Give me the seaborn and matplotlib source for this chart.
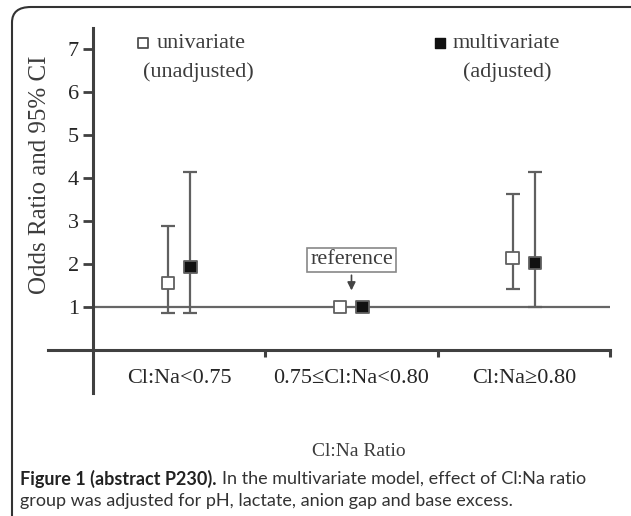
import numpy as np
import pandas as pd
import seaborn as sns
import matplotlib.pyplot as plt
from matplotlib.patches import FancyBboxPatch

# data
groups = ['Cl:Na<0.75', '0.75≤Cl:Na<0.80', 'Cl:Na≥0.80']
uni_or = [1.56, 1.0, 2.14]
uni_lo = [0.86, 1.0, 1.42]
uni_hi = [2.88, 1.0, 3.63]
multi_or = [1.93, 1.0, 2.02]
multi_lo = [0.86, 1.0, 1.00]
multi_hi = [4.14, 1.0, 4.14]
y_ticks = [1, 2, 3, 4, 5, 6, 7]

sns.set_theme(style='white')
plt.rcParams['font.family'] = ['Liberation Serif', 'DejaVu Serif']
plt.rcParams['text.color'] = '#3c3c3c'

W, H = 631, 516
fig = plt.figure(figsize=(W / 100, H / 100), dpi=100)
ax = fig.add_axes([40 / W, (H - 400) / H, 580 / W, 380 / H])

df = pd.DataFrame({
    'x': np.concatenate([np.arange(3) - 0.065, np.arange(3) + 0.065]),
    'or': uni_or + multi_or,
    'lo': uni_lo + multi_lo,
    'hi': uni_hi + multi_hi,
    'model': ['univariate'] * 3 + ['multivariate'] * 3,
})

ax.hlines(1, -0.5, 2.5, color='#666666', lw=1.6, zorder=1)

for _, r in df.iterrows():
    if r['hi'] > r['lo']:
        ax.errorbar(r['x'], r['or'], yerr=[[r['or'] - r['lo']], [r['hi'] - r['or']]],
                    fmt='none', ecolor='#606060', elinewidth=1.6, capsize=5, capthick=1.6, zorder=2)

sns.scatterplot(data=df, x='x', y='or', hue='model', style='model',
                palette={'univariate': 'white', 'multivariate': '#111111'},
                markers={'univariate': 's', 'multivariate': 's'},
                s=80, edgecolor='#606060', linewidth=1.3, legend=False, zorder=3, ax=ax)

ax.set_xlim(-0.5 - 53 / 172.5, 2.5 + 10 / 172.5)
ax.set_ylim(-50 / 43, 330 / 43)

for s in ['top', 'right']:
    ax.spines[s].set_visible(False)
ax.spines['left'].set_position(('data', -0.5))
ax.spines['left'].set_bounds(-1.0, 7.5)
ax.spines['bottom'].set_position(('data', 0))
ax.spines['bottom'].set_bounds(-0.76, 2.5)
for s in ['left', 'bottom']:
    ax.spines[s].set_color('#404040')
    ax.spines[s].set_linewidth(2.2)

ax.set_yticks(y_ticks)
ax.set_yticklabels([str(t) for t in y_ticks], fontsize=16)
ax.tick_params(axis='y', direction='out', length=7, width=2, color='#404040', left=True, pad=3)
ax.set_xticks([0.5, 1.5, 2.5])
ax.set_xticklabels([])
ax.tick_params(axis='x', which='major', direction='in', length=0)
ax.set_xticks([0, 1, 2], minor=True)
ax.set_xticklabels(groups, minor=True, fontsize=16)
ax.tick_params(axis='x', which='minor', length=0, pad=14)
for xt in [0.5, 1.5, 2.5]:
    ax.plot([xt, xt], [0, -0.16], color='#404040', lw=2.2, solid_capstyle='butt', zorder=1)
ax.set_xlabel('')
ax.set_ylabel('')

fig.text(40 / W, 1 - 175 / H, 'Odds Ratio and 95% CI', rotation=90, fontsize=18,
         ha='center', va='center')
fig.text(359 / W, 1 - 452 / H, 'Cl:Na Ratio', fontsize=14, ha='center', va='center')

# legend pieces
ax.scatter([143 / W], [1 - 43 / H], transform=fig.transFigure, marker='s', s=45,
           facecolor='white', edgecolor='#505050', linewidth=1.3, clip_on=False)
fig.text(157 / W, 1 - 43 / H, 'univariate', fontsize=16, va='center')
fig.text(143 / W, 1 - 72 / H, '(unadjusted)', fontsize=16, va='center')
ax.scatter([440 / W], [1 - 43 / H], transform=fig.transFigure, marker='s', s=45,
           facecolor='#111111', edgecolor='#111111', clip_on=False)
fig.text(453 / W, 1 - 43 / H, 'multivariate', fontsize=16, va='center')
fig.text(463 / W, 1 - 72 / H, '(adjusted)', fontsize=16, va='center')

ax.annotate('reference', xy=(1, 1.32), xytext=(1, 2.1), ha='center', va='center', fontsize=16,
            bbox=dict(boxstyle='square,pad=0.12', fc='white', ec='#888888', lw=1.2),
            arrowprops=dict(arrowstyle='-|>', color='#444444', lw=1.2, mutation_scale=12))

# caption
cap_font = ['Lato', 'DejaVu Sans']
t1 = fig.text(20 / W, 1 - 479 / H, 'Figure 1 (abstract P230).', fontsize=13,
              fontweight='bold', family=cap_font, color='#222222', va='center')
fig.canvas.draw()
bb = t1.get_window_extent()
fig.text((bb.x1 + 5) / W, 1 - 479 / H, 'In the multivariate model, effect of Cl:Na ratio',
         fontsize=13, family=cap_font, color='#333333', va='center')
fig.text(20 / W, 1 - 501 / H, 'group was adjusted for pH, lactate, anion gap and base excess.',
         fontsize=13, family=cap_font, color='#333333', va='center')

fig.patches.append(FancyBboxPatch((12 / W, -20 / H), 640 / W, (H - 7 + 20) / H,
                                  boxstyle='round,pad=0,rounding_size=0.03',
                                  transform=fig.transFigure, fc='none', ec='#333333', lw=1.5))

fig.savefig('out.png', dpi=100)
